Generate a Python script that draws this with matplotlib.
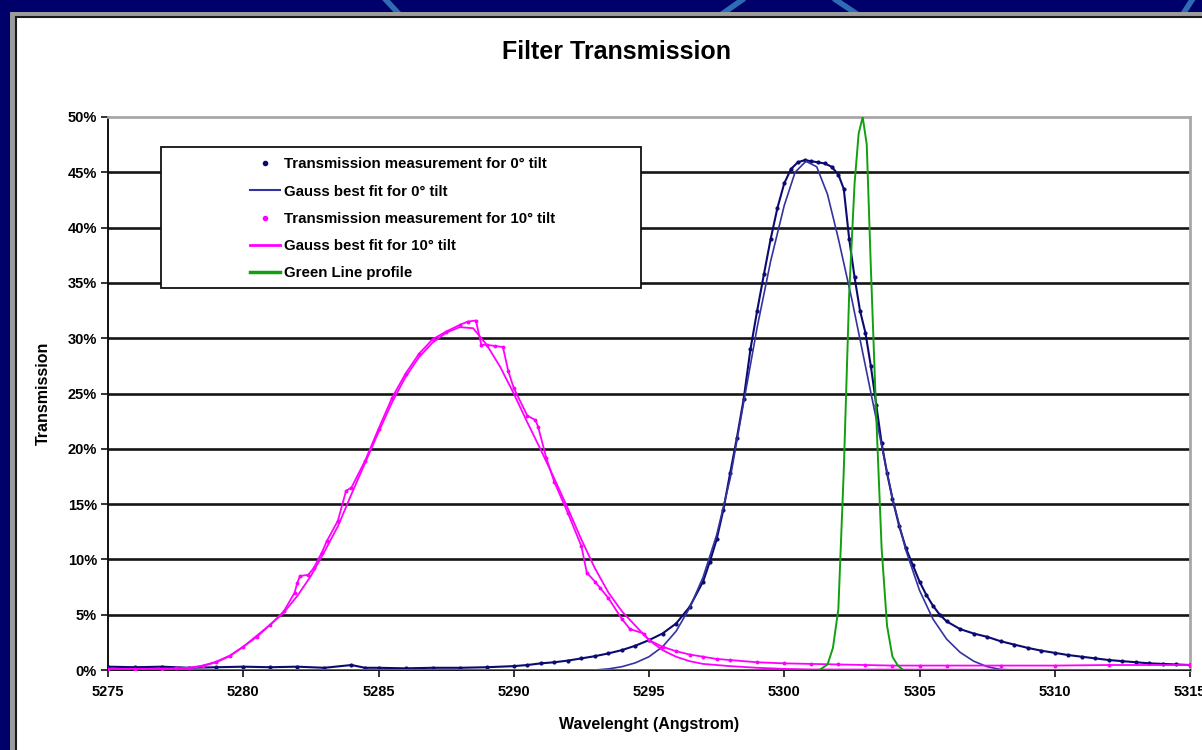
import matplotlib
matplotlib.use("Agg")
import matplotlib.pyplot as plt
from matplotlib.patches import Rectangle
from matplotlib.lines import Line2D
from matplotlib.ticker import FuncFormatter

plt.rcParams['font.family'] = ['Liberation Sans', 'DejaVu Sans']

# ---------------- data ----------------
title = "Filter Transmission"
x_label = "Wavelenght (Angstrom)"
y_label = "Transmission"
x_ticks = [5275, 5280, 5285, 5290, 5295, 5300, 5305, 5310, 5315]
y_ticks = [0, 5, 10, 15, 20, 25, 30, 35, 40, 45, 50]
legend_labels = ["Transmission measurement for 0\u00b0 tilt",
                 "Gauss best fit for 0\u00b0 tilt",
                 "Transmission measurement for 10\u00b0 tilt",
                 "Gauss best fit for 10\u00b0 tilt",
                 "Green Line profile"]

# measurement, 0 deg tilt (percent)
meas0_x = [5275.0, 5276.0, 5277.0, 5278.0, 5279.0, 5280.0, 5281.0, 5282.0, 5283.0,
           5284.0, 5284.5, 5285.0, 5286.0, 5287.0, 5288.0, 5289.0, 5290.0, 5290.5,
           5291.0, 5291.5, 5292.0, 5292.5, 5293.0, 5293.5, 5294.0, 5294.5, 5295.0,
           5295.5, 5296.0, 5296.5, 5297.0, 5297.25, 5297.5, 5297.75, 5298.0, 5298.25,
           5298.5, 5298.75, 5299.0, 5299.25, 5299.5, 5299.75, 5300.0, 5300.25, 5300.5,
           5300.75, 5301.0, 5301.25, 5301.5, 5301.75, 5302.0, 5302.2, 5302.4, 5302.6,
           5302.8, 5303.0, 5303.2, 5303.4, 5303.6, 5303.8, 5304.0, 5304.25, 5304.5,
           5304.75, 5305.0, 5305.25, 5305.5, 5305.75, 5306.0, 5306.5, 5307.0, 5307.5,
           5308.0, 5308.5, 5309.0, 5309.5, 5310.0, 5310.5, 5311.0, 5311.5, 5312.0,
           5312.5, 5313.0, 5313.5, 5314.0, 5314.5, 5315.0]
meas0_y = [0.3, 0.25, 0.3, 0.2, 0.25, 0.3, 0.25, 0.3, 0.2,
           0.45, 0.2, 0.2, 0.15, 0.2, 0.2, 0.25, 0.35, 0.45,
           0.6, 0.7, 0.85, 1.05, 1.25, 1.5, 1.8, 2.2, 2.7,
           3.3, 4.2, 5.7, 8.0, 9.8, 11.8, 14.5, 17.8, 21.0,
           24.5, 29.0, 32.5, 35.8, 39.0, 41.8, 44.0, 45.3, 45.9,
           46.1, 46.0, 45.9, 45.8, 45.5, 44.8, 43.5, 39.0, 35.5,
           32.5, 30.5, 27.5, 24.0, 20.5, 17.8, 15.5, 13.0, 11.0,
           9.5, 8.0, 6.8, 5.8, 5.0, 4.4, 3.7, 3.3, 3.0,
           2.6, 2.3, 2.0, 1.75, 1.55, 1.35, 1.2, 1.05, 0.9,
           0.8, 0.7, 0.6, 0.55, 0.5, 0.45]

# Gauss fit, 0 deg tilt
fit0_x = [5275.0, 5293.0, 5293.5, 5294.0, 5294.5, 5295.0, 5295.5, 5296.0, 5296.5,
          5297.0, 5297.5, 5298.0, 5298.5, 5299.0, 5299.5, 5300.0, 5300.4, 5300.8,
          5301.2, 5301.6, 5302.0, 5302.5, 5303.0, 5303.5, 5304.0, 5304.5, 5305.0,
          5305.5, 5306.0, 5306.5, 5307.0, 5307.5, 5308.0, 5308.5, 5315.0]
fit0_y = [0.0, 0.0, 0.1, 0.3, 0.65, 1.2, 2.1, 3.5, 5.6,
          8.4, 12.2, 17.3, 24.2, 31.0, 37.0, 42.0, 45.0, 46.0,
          45.5, 43.0, 39.0, 33.5, 27.5, 21.5, 15.5, 10.8, 7.2,
          4.6, 2.8, 1.6, 0.8, 0.3, 0.05, 0.0, 0.0]

# measurement, 10 deg tilt
meas10_x = [5275.0, 5276.0, 5277.0, 5277.5, 5278.0, 5278.5, 5279.0, 5279.5, 5280.0,
            5280.5, 5281.0, 5281.5, 5281.9, 5282.0, 5282.1, 5282.4, 5282.6, 5282.9,
            5283.1, 5283.5, 5283.8, 5284.0, 5284.5, 5285.0, 5285.5, 5286.0, 5286.5,
            5287.0, 5287.5, 5288.0, 5288.3, 5288.6, 5288.8, 5289.0, 5289.3, 5289.6,
            5289.8, 5290.0, 5290.5, 5290.8, 5290.9, 5291.2, 5291.5, 5292.0, 5292.5,
            5292.7, 5293.0, 5293.2, 5293.5, 5294.0, 5294.3, 5294.8, 5295.0, 5295.5,
            5296.0, 5296.5, 5297.0, 5297.5, 5298.0, 5299.0, 5300.0, 5301.0, 5302.0,
            5303.0, 5304.0, 5305.0, 5306.0, 5308.0, 5310.0, 5312.0, 5315.0]
meas10_y = [0.1, 0.1, 0.1, 0.15, 0.2, 0.4, 0.75, 1.3, 2.1,
            3.0, 4.1, 5.3, 7.0, 7.9, 8.5, 8.6, 9.2, 10.6,
            11.7, 13.5, 16.2, 16.5, 18.9, 21.8, 24.6, 26.8, 28.6,
            29.9, 30.6, 31.2, 31.5, 31.6, 29.4, 29.4, 29.3, 29.2,
            27.0, 25.5, 23.0, 22.6, 22.0, 19.2, 17.0, 14.2, 11.2,
            8.8, 8.0, 7.4, 6.5, 4.6, 3.7, 3.3, 2.7, 2.1,
            1.7, 1.4, 1.2, 1.0, 0.9, 0.7, 0.6, 0.55, 0.5,
            0.45, 0.4, 0.4, 0.4, 0.4, 0.4, 0.45, 0.45]

# Gauss fit, 10 deg tilt
fit10_x = [5275.0, 5277.5, 5278.0, 5278.5, 5279.0, 5279.5, 5280.0, 5280.5, 5281.0,
           5281.5, 5282.0, 5282.5, 5283.0, 5283.5, 5284.0, 5284.5, 5285.0, 5285.5,
           5286.0, 5286.5, 5287.0, 5287.5, 5288.0, 5288.5, 5289.0, 5289.5, 5290.0,
           5290.5, 5291.0, 5291.5, 5292.0, 5292.5, 5293.0, 5293.5, 5294.0, 5294.5,
           5295.0, 5295.5, 5296.0, 5296.5, 5297.0, 5298.0, 5299.0, 5300.0, 5301.0,
           5315.0]
fit10_y = [0.0, 0.0, 0.15, 0.35, 0.7, 1.25, 2.1, 3.1, 4.1,
           5.2, 6.7, 8.5, 10.7, 13.0, 15.9, 18.7, 21.5, 24.2,
           26.5, 28.3, 29.6, 30.5, 31.0, 30.9, 29.4, 27.4, 25.0,
           22.4, 19.9, 17.3, 14.6, 11.8, 9.2, 7.0, 5.3, 4.0,
           2.7, 1.8, 1.2, 0.8, 0.55, 0.35, 0.2, 0.1, 0.05,
           0.0]

# Green line profile
green_x = [5275.0, 5301.3, 5301.6, 5301.8, 5302.0, 5302.2, 5302.4, 5302.6, 5302.75,
           5302.9, 5303.05, 5303.2, 5303.4, 5303.6, 5303.8, 5304.0, 5304.2, 5304.4,
           5315.0]
green_y = [0.0, 0.0, 0.5, 2.0, 5.5, 18.0, 34.0, 44.0, 48.5,
           50.0, 47.5, 36.5, 23.0, 11.0, 4.0, 1.2, 0.4, 0.0,
           0.0]

# ---------------- styling ----------------
NAVY_BG = "#00006a"
C_MEAS0 = "#0a0a70"
C_FIT0 = "#3333a0"
C_PINK = "#ff00ff"
C_GREEN = "#10a010"

W, H = 1202, 750
fig = plt.figure(figsize=(W / 100, H / 100), dpi=100, facecolor=NAVY_BG)

def fx(px):
    return px / W

def fy(py):
    return 1 - py / H

# decorative light-blue arcs in top strip
for (x0, y0, x1, y1) in [(386, 0, 399, 14), (742, 0, 722, 14), (836, 0, 857, 14), (1192, 0, 1183, 14)]:
    fig.add_artist(Line2D([fx(x0), fx(x1)], [fy(y0), fy(y1)], color="#2e6cb4",
                          lw=4, transform=fig.transFigure, zorder=0))

# chart panel (grey border + white area)
fig.add_artist(Rectangle((fx(10), -0.05), 1.0, fy(12) + 0.05, transform=fig.transFigure,
                         facecolor="#9c9c9c", edgecolor="none", zorder=1))
fig.add_artist(Rectangle((fx(15.5), -0.05), 1.0, fy(17) + 0.05, transform=fig.transFigure,
                         facecolor="white", edgecolor="#1a1a1a", lw=1.5, zorder=2))

ax = fig.add_axes([fx(108), fy(670), fx(1190) - fx(108), fy(117) - fy(670)])
ax.set_zorder(3)
ax.set_facecolor("white")
ax.set_xlim(x_ticks[0], x_ticks[-1])
ax.set_ylim(y_ticks[0], y_ticks[-1])
ax.set_xticks(x_ticks)
ax.set_yticks(y_ticks)
ax.yaxis.set_major_formatter(FuncFormatter(lambda v, p: f"{int(round(v))}%"))

for yv in y_ticks[1:-1]:
    ax.axhline(yv, color="#151515", lw=1.9, zorder=1)

for s in ["top", "right"]:
    ax.spines[s].set_color("#a8a8a8")
    ax.spines[s].set_linewidth(2.0)
for s in ["left", "bottom"]:
    ax.spines[s].set_color("#111111")
    ax.spines[s].set_linewidth(1.4)

ax.tick_params(axis="both", direction="out", length=5, width=1.2, color="#111111",
               labelsize=10.5, pad=3)
for lab in ax.get_xticklabels() + ax.get_yticklabels():
    lab.set_fontweight("bold")
ax.tick_params(axis="x", pad=6)

# series
ax.plot(meas0_x, meas0_y, color=C_MEAS0, lw=1.5, marker="o", ms=2.0, zorder=4)
ax.plot(fit0_x, fit0_y, color=C_FIT0, lw=1.2, zorder=5)
ax.plot(meas10_x, meas10_y, color=C_PINK, lw=1.3, marker="o", ms=1.8, zorder=6)
ax.plot(fit10_x, fit10_y, color=C_PINK, lw=1.3, zorder=7)
ax.plot(green_x, green_y, color=C_GREEN, lw=1.4, zorder=8)

# legend box
ax.add_patch(Rectangle((0.049, 0.691), 0.4436, 0.2548, transform=ax.transAxes,
                       facecolor="white", edgecolor="#111111", lw=1.3, zorder=9,
                       clip_on=False))
handles = [Line2D([], [], color=C_MEAS0, marker="o", ms=3, ls="none"),
           Line2D([], [], color=C_FIT0, lw=1.5),
           Line2D([], [], color=C_PINK, marker="o", ms=3, ls="none"),
           Line2D([], [], color=C_PINK, lw=2.0),
           Line2D([], [], color=C_GREEN, lw=2.5)]
leg = ax.legend(handles, legend_labels, loc="upper left", bbox_to_anchor=(0.131, 0.927),
                frameon=False, borderpad=0, borderaxespad=0, handlelength=2.0,
                handletextpad=0.3, labelspacing=0.88,
                prop={"family": "Liberation Sans", "weight": "bold", "size": 10.8})
leg.set_zorder(10)

fig.text(fx(616), fy(52), title, ha="center", va="center", fontsize=18,
         fontweight="bold", color="black", zorder=5)
fig.text(fx(649), fy(725), x_label, ha="center", va="center", fontsize=11.5,
         fontweight="bold", color="black", zorder=5)
fig.text(fx(43), fy(393), y_label, ha="center", va="center", rotation=90, fontsize=11.5,
         fontweight="bold", color="black", zorder=5)

fig.savefig("out.png", dpi=100, facecolor=fig.get_facecolor())
